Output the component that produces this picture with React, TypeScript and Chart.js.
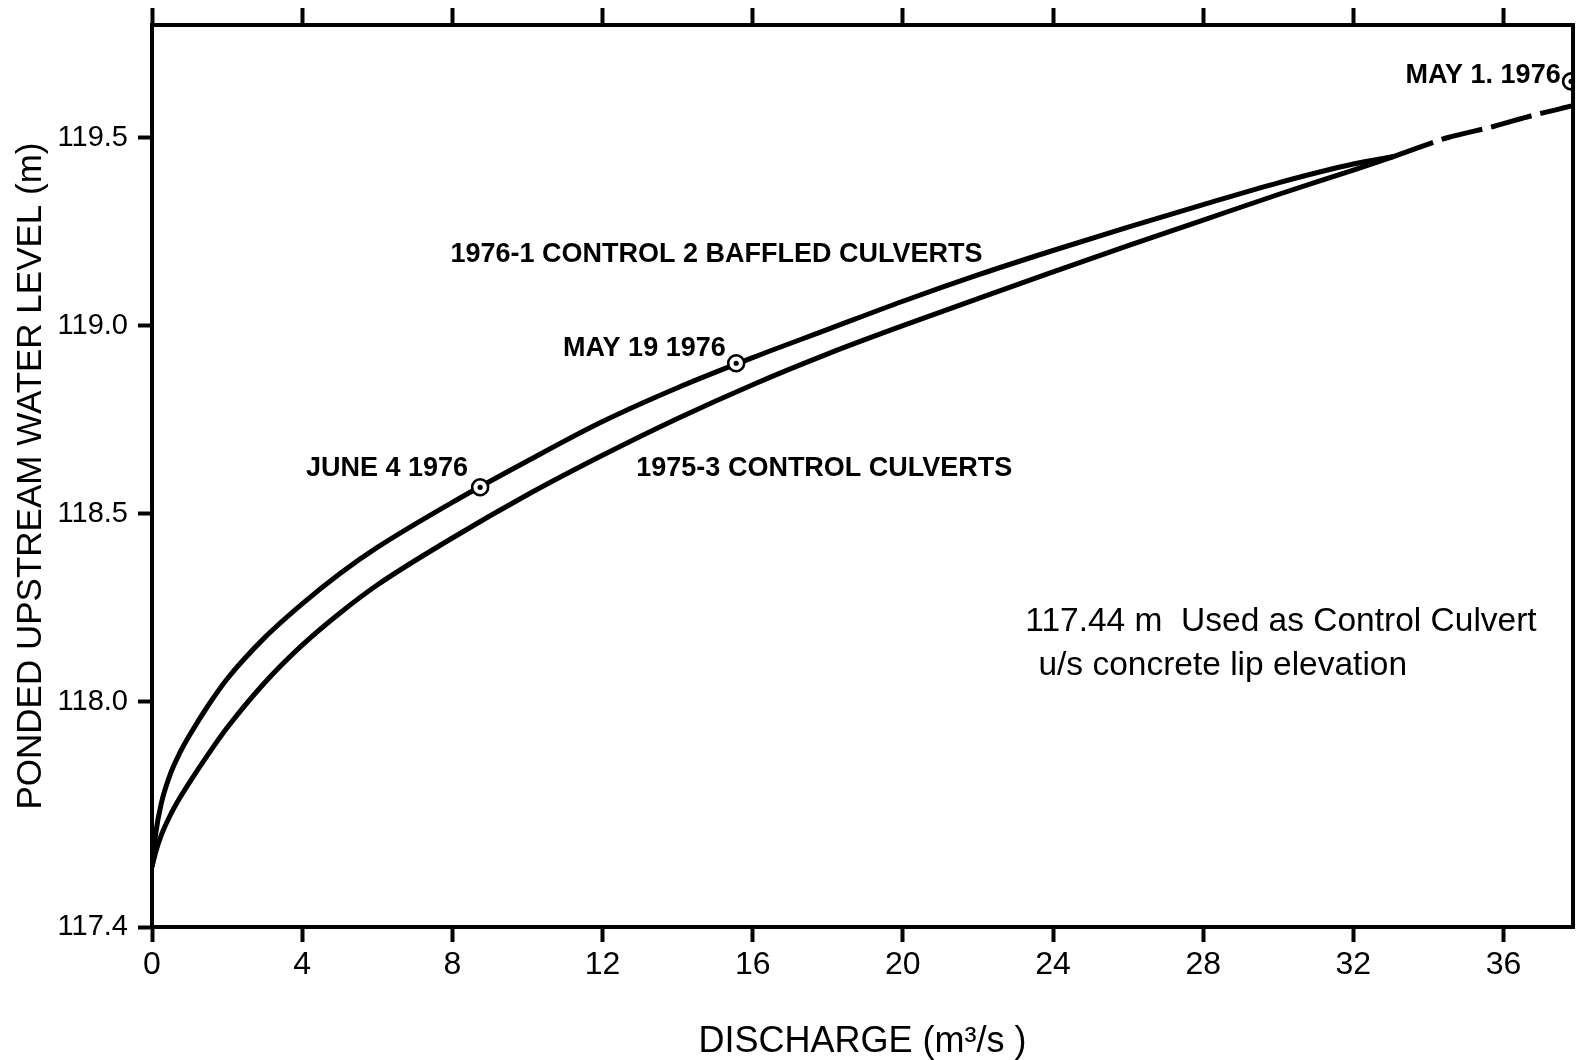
import React, { useEffect, useRef } from "react";
import { Chart, registerables } from "chart.js";

Chart.register(...registerables);

// ---- axes ----
const X_MIN = 0;
const X_MAX = 37.85;
const Y_MIN = 117.4;
const Y_MAX = 119.8;
const X_TICKS = [0, 4, 8, 12, 16, 20, 24, 28, 32, 36];
const Y_TICKS = [117.4, 118.0, 118.5, 119.0, 119.5];

// ---- 1976: 1 control + 2 baffled culverts (upper curve) ----
const UPPER_X = [0, 0.1, 0.25, 0.5, 0.75, 1, 1.5, 2, 3, 4, 5, 6, 8, 10, 12, 14, 16, 18, 20, 22, 24, 26, 28, 30, 32, 33.07];
const UPPER_Y = [
  117.56, 117.65, 117.73, 117.81, 117.865, 117.91, 117.99, 118.06, 118.17, 118.26, 118.34, 118.41, 118.53,
  118.64, 118.745, 118.835, 118.915, 118.99, 119.065, 119.135, 119.2, 119.262, 119.322, 119.38, 119.43, 119.45,
];

// ---- 1975: 3 control culverts (lower curve) ----
const LOWER_X = [0, 0.1, 0.25, 0.5, 0.75, 1, 1.5, 2, 3, 4, 5, 6, 8, 10, 12, 14, 16, 18, 20, 22, 24, 26, 28, 30, 32, 33.07];
const LOWER_Y = [
  117.56, 117.6, 117.645, 117.7, 117.745, 117.785, 117.86, 117.93, 118.05, 118.15, 118.235, 118.31, 118.435,
  118.55, 118.655, 118.753, 118.843, 118.925, 119.0, 119.072, 119.143, 119.213, 119.281, 119.349, 119.414, 119.45,
];

// ---- dashed extension ----
const EXT_X = [33.07, 34.5, 35.73, 36.8, 37.85];
const EXT_Y = [119.45, 119.5, 119.53, 119.56, 119.585];

// ---- observed points ----
const OBS_X = [8.74, 15.56, 37.8];
const OBS_Y = [118.57, 118.9, 119.65];

// ---- annotations ----
const NOTE_TEXT = [
  "1976-1 CONTROL 2 BAFFLED CULVERTS",
  "MAY 19 1976",
  "JUNE 4 1976",
  "1975-3 CONTROL CULVERTS",
  "MAY 1. 1976",
  "117.44 m  Used as Control Culvert",
  "u/s concrete lip elevation",
];
const NOTE_X = [7.95, 10.95, 4.1, 12.9, 33.39, 23.26, 23.61];
const NOTE_Y = [119.19, 118.94, 118.62, 118.62, 119.665, 118.213, 118.094];
const NOTE_BOLD = [true, true, true, true, true, false, false];

const FONT = "'Liberation Sans', Arial, sans-serif";

const pts = (xs: number[], ys: number[]) => xs.map((x, i) => ({ x, y: ys[i] }));

const framePlugin = {
  id: "frame",
  afterDatasetsDraw(chart: any) {
    const { ctx, chartArea } = chart;
    ctx.save();
    ctx.strokeStyle = "#000";
    ctx.lineWidth = 4;
    ctx.strokeRect(chartArea.left, chartArea.top, chartArea.right - chartArea.left, chartArea.bottom - chartArea.top);
    ctx.restore();
  },
};

const notesPlugin = {
  id: "notes",
  afterDatasetsDraw(chart: any) {
    const { ctx } = chart;
    const xs = chart.scales.x;
    const ys = chart.scales.y;
    ctx.save();
    ctx.fillStyle = "#000";
    ctx.textAlign = "left";
    ctx.textBaseline = "middle";
    NOTE_TEXT.forEach((t, i) => {
      ctx.font = NOTE_BOLD[i] ? `bold 27px ${FONT}` : `33.5px ${FONT}`;
      ctx.fillText(t, xs.getPixelForValue(NOTE_X[i]), ys.getPixelForValue(NOTE_Y[i]));
    });
    ctx.restore();
  },
};

const zeroPadX = (s: any, h: number) => {
  s.height = h;
  s.paddingLeft = 0;
  s.paddingRight = 0;
};

export default function App() {
  const ref = useRef<HTMLCanvasElement | null>(null);

  useEffect(() => {
    if (!ref.current) return;
    const lineStyle = {
      type: "line" as const,
      borderColor: "#000",
      borderWidth: 5,
      pointRadius: 0,
      cubicInterpolationMode: "monotone" as const,
      fill: false,
    };
    const chart = new Chart(ref.current, {
      type: "line",
      data: {
        datasets: [
          {
            type: "line",
            data: pts(OBS_X, OBS_Y),
            showLine: false,
            pointRadius: 2.6,
            pointBackgroundColor: "#000",
            pointBorderWidth: 0,
            order: 0,
            clip: 0,
          } as any,
          {
            type: "line",
            data: pts(OBS_X, OBS_Y),
            showLine: false,
            pointRadius: 8,
            pointBackgroundColor: "#fff",
            pointBorderColor: "#000",
            pointBorderWidth: 2.6,
            order: 1,
            clip: 0,
          } as any,
          { ...lineStyle, data: pts(UPPER_X, UPPER_Y), order: 2 } as any,
          { ...lineStyle, data: pts(LOWER_X, LOWER_Y), order: 3 } as any,
          { ...lineStyle, data: pts(EXT_X, EXT_Y), borderDash: [42, 9], order: 4 } as any,
        ],
      },
      options: {
        animation: false,
        responsive: true,
        maintainAspectRatio: false,
        layout: { autoPadding: false, padding: { left: 0, top: 0, right: 3, bottom: 0 } },
        plugins: { legend: { display: false }, tooltip: { enabled: false } },
        elements: { line: { borderCapStyle: "butt" } },
        scales: {
          x: {
            type: "linear",
            position: "bottom",
            min: X_MIN,
            max: X_MAX,
            afterBuildTicks: (s: any) => {
              s.ticks = X_TICKS.map((v) => ({ value: v }));
            },
            afterFit: (s: any) => zeroPadX(s, 133),
            ticks: {
              color: "#000",
              padding: 4,
              maxRotation: 0,
              font: { family: FONT, size: 32 },
              callback: (v: any) => String(v),
            },
            grid: {
              display: true,
              drawOnChartArea: false,
              drawTicks: true,
              tickLength: 15,
              tickWidth: 4,
              tickColor: "#000",
              color: "#000",
            },
            border: { display: true, color: "#000", width: 4 },
            title: {
              display: true,
              text: "DISCHARGE (m³/s )",
              color: "#000",
              font: { family: FONT, size: 36, lineHeight: 1.0 },
              padding: { top: 0, bottom: 0 },
            },
          },
          x2: {
            type: "linear",
            position: "top",
            min: X_MIN,
            max: X_MAX,
            afterBuildTicks: (s: any) => {
              s.ticks = X_TICKS.map((v) => ({ value: v }));
            },
            afterFit: (s: any) => zeroPadX(s, 25),
            ticks: { display: false },
            grid: {
              display: true,
              drawOnChartArea: false,
              drawTicks: true,
              tickLength: 17,
              tickWidth: 4,
              tickColor: "#000",
              color: "#000",
            },
            border: { display: true, color: "#000", width: 4 },
          },
          y: {
            type: "linear",
            position: "left",
            min: Y_MIN,
            max: Y_MAX,
            afterBuildTicks: (s: any) => {
              s.ticks = Y_TICKS.map((v) => ({ value: v }));
            },
            afterFit: (s: any) => {
              s.width = 152;
              s.paddingTop = 0;
              s.paddingBottom = 0;
            },
            ticks: {
              color: "#000",
              padding: 10,
              font: { family: FONT, size: 29 },
              callback: (v: any) => Number(v).toFixed(1),
            },
            grid: {
              display: true,
              drawOnChartArea: false,
              drawTicks: true,
              tickLength: 14,
              tickWidth: 4,
              tickColor: "#000",
              color: "#000",
            },
            border: { display: true, color: "#000", width: 4 },
            title: {
              display: true,
              text: "PONDED UPSTREAM WATER LEVEL (m)",
              color: "#000",
              font: { family: FONT, size: 35 },
              padding: { top: 10, bottom: 0 },
            },
          },
        },
      },
      plugins: [framePlugin, notesPlugin],
    });
    return () => chart.destroy();
  }, []);

  return (
    <div style={{ position: "absolute", left: 0, top: 0, width: 1576, height: 1060, background: "#fff" }}>
      <canvas ref={ref} />
    </div>
  );
}
